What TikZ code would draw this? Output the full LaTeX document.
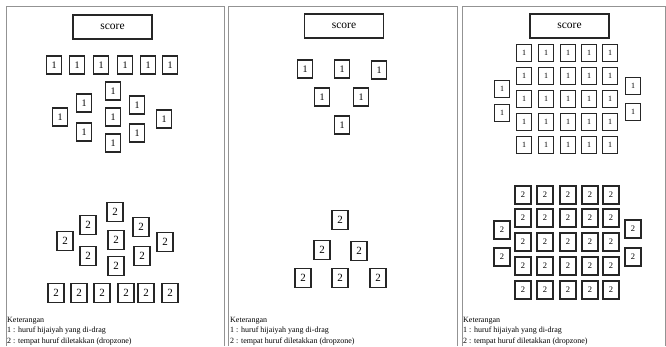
\documentclass[tikz,border=0pt]{standalone}
\usepackage{fontspec}
\setmainfont{Liberation Serif}
\begin{document}
\begin{tikzpicture}[x=1pt,y=-1pt,
	panel/.style={draw=gray!85,line width=0.9pt},
	skor/.style={draw=black!85,line width=1.2pt,minimum width=79pt,minimum height=24pt,inner sep=0pt,font=\fontsize{11.5}{11.5}\selectfont},
	huruf/.style={draw=black!85,line width=1.2pt,minimum width=15pt,minimum height=18pt,inner sep=0pt,font=\fontsize{10}{10}\selectfont},
	zona/.style={draw=black!85,line width=1.6pt,minimum width=16pt,minimum height=19pt,inner sep=0pt,font=\fontsize{11}{11}\selectfont},
	ket/.style={anchor=base west,inner sep=0pt,font=\fontsize{8}{10}\selectfont}]
	\useasboundingbox (0,0) rectangle (666,346);
	% tiga panel
	\draw[panel] (6,346) -- (6,6) -- (224,6) -- (224,346);
	\draw[panel] (228,346) -- (228,6) -- (457,6) -- (457,346);
	\draw[panel] (462,346) -- (462,6) -- (665,6) -- (665,346);
	% panel 1
	\node[skor] (skorA) at (112.5,27) {score};
	\foreach \x [count=\i] in {54,77,101,125,148,170}
		\node[huruf] (hA\i) at (\x,65) {1};
	\foreach \x/\y [count=\i] in {113/91,84/103,137/105,60/117,113/117,164/119,84/132,137/133,113/143}
		\node[huruf] (hB\i) at (\x,\y) {1};
	\foreach \x/\y [count=\i] in {115/212,88/225,141/227,65/241,116/240,165/242,88/256,142/256,116/266}
		\node[zona] (zA\i) at (\x,\y) {2};
	\foreach \x [count=\i] in {56,79,102,126,146,170}
		\node[zona] (zB\i) at (\x,293) {2};
	\node[ket] (ketA) at (7,322) {Keterangan};
	\node[ket] (ketA1) at (7,332.5) {1 : huruf hijaiyah yang di-drag};
	\node[ket] (ketA2) at (7,343) {2 : tempat huruf diletakkan (dropzone)};
	% panel 2
	\node[skor] (skorB) at (344,26) {score};
	\foreach \x/\y [count=\i] in {305/69,342/69,379/70,322/97,361/97,342/125}
		\node[huruf] (hC\i) at (\x,\y) {1};
	\foreach \x/\y [count=\i] in {340/220,322/250,359/251,303/278,340/278,378/278}
		\node[zona] (zC\i) at (\x,\y) {2};
	\node[ket] (ketB) at (230,322) {Keterangan};
	\node[ket] (ketB1) at (230,332.5) {1 : huruf hijaiyah yang di-drag};
	\node[ket] (ketB2) at (230,343) {2 : tempat huruf diletakkan (dropzone)};
	% panel 3
	\node[skor] (skorC) at (569.5,26) {score};
	\foreach \y [count=\j] in {53,76,99,122,145}
		\foreach \x [count=\i] in {524,546,568,589,610}
			\node[huruf,minimum height=17pt,font=\fontsize{8}{8}\selectfont] (hD\j\i) at (\x,\y) {1};
	\foreach \x/\y [count=\i] in {502/89,502/113,633/86,633/112}
		\node[huruf,minimum height=17pt,font=\fontsize{8}{8}\selectfont] (hE\i) at (\x,\y) {1};
	\foreach \y [count=\j] in {195,218,242,266,290}
		\foreach \x [count=\i] in {523,545,568,590,611}
			\node[zona,minimum height=18pt,font=\fontsize{8.5}{8.5}\selectfont] (zD\j\i) at (\x,\y) {2};
	\foreach \x/\y [count=\i] in {502/230,502/257,633/229,633/257}
		\node[zona,minimum height=18pt,font=\fontsize{8.5}{8.5}\selectfont] (zE\i) at (\x,\y) {2};
	\node[ket] (ketC) at (463,322) {Keterangan};
	\node[ket] (ketC1) at (463,332.5) {1 : huruf hijaiyah yang di-drag};
	\node[ket] (ketC2) at (463,343) {2 : tempat huruf diletakkan (dropzone)};
\end{tikzpicture}
\end{document}
